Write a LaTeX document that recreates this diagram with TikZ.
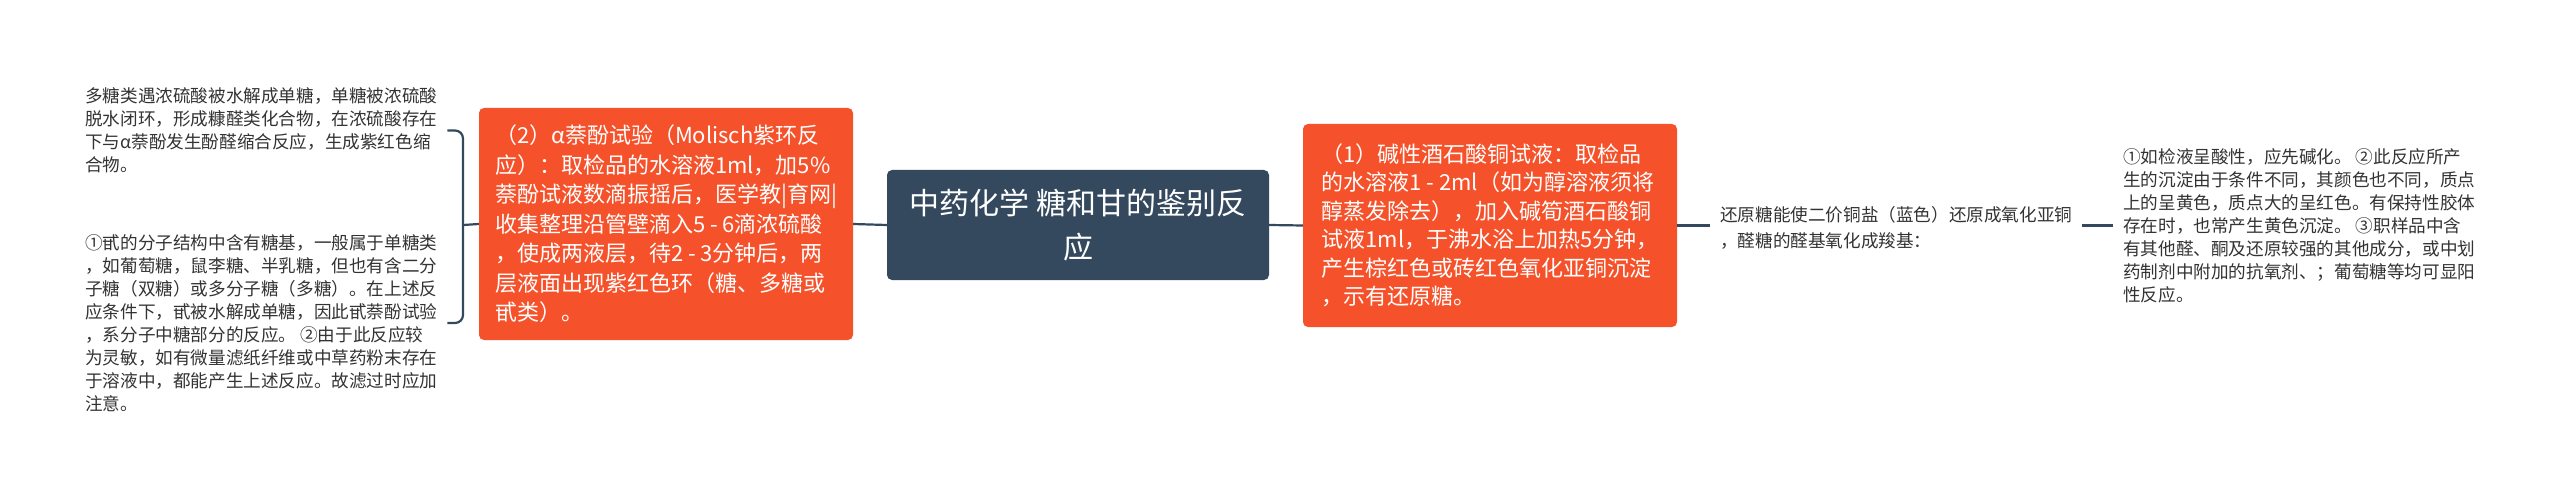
\documentclass[tikz,border=0pt]{standalone}
\usepackage{fontspec}
\setmainfont{Noto Sans CJK SC}
\usetikzlibrary{positioning,calc}

\definecolor{rootslate}{HTML}{34495E}
\definecolor{topicorange}{HTML}{F5522B}
\definecolor{notegray}{HTML}{333333}

\tikzset{
  root/.style={fill=rootslate,text=white,rounded corners=5pt,align=center,
    font=\fontsize{30}{44}\selectfont},
  topic/.style={fill=topicorange,text=white,rounded corners=5pt,align=left,
    inner xsep=11pt,font=\fontsize{22}{29.5}\selectfont},
  note/.style={text=notegray,align=left,inner xsep=10pt,inner ysep=0pt,
    font=\fontsize{17.6}{23}\selectfont},
  link/.style={draw=rootslate,line width=2.2pt}
}

\begin{document}
\begin{tikzpicture}[x=1pt,y=-1pt]
          \useasboundingbox[fill=white] (0,0) rectangle (2560,497);

          % Draw the boxes
          \node[root,minimum width=382pt,minimum height=110pt] (root) at (1078,225) {中药化学 糖和甘的鉴别反\\应};
          \node[topic,minimum width=374pt,minimum height=232pt] (molisch) at (666,224) {（2）α萘酚试验（Molisch紫环反\\应）：取检品的水溶液1ml，加5\%\\萘酚试液数滴振摇后，医学教|育网|\\收集整理沿管壁滴入5 - 6滴浓硫酸\\，使成两液层，待2 - 3分钟后，两\\层液面出现紫红色环（糖、多糖或\\甙类）。};
          \node[topic,minimum width=374pt,minimum height=203pt,font=\fontsize{22}{28.5}\selectfont] (fehling) at (1490,225.5) {（1）碱性酒石酸铜试液：取检品\\的水溶液1 - 2ml（如为醇溶液须将\\醇蒸发除去），加入碱筍酒石酸铜\\试液1ml，于沸水浴上加热5分钟，\\产生棕红色或砖红色氧化亚铜沉淀\\，示有还原糖。};

          % Draw the notes
          \node[note,anchor=west] (sugar) at (75,130.5) {多糖类遇浓硫酸被水解成单糖，单糖被浓硫酸\\脱水闭环，形成糠醛类化合物，在浓硫酸存在\\下与α萘酚发生酚醛缩合反应，生成紫红色缩\\合物。};
          \node[note,anchor=west] (glycoside) at (75,323) {①甙的分子结构中含有糖基，一般属于单糖类\\，如葡萄糖，鼠李糖、半乳糖，但也有含二分\\子糖（双糖）或多分子糖（多糖）。在上述反\\应条件下，甙被水解成单糖，因此甙萘酚试验\\，系分子中糖部分的反应。 ②由于此反应较\\为灵敏，如有微量滤纸纤维或中草药粉末存在\\于溶液中，都能产生上述反应。故滤过时应加\\注意。};
          \node[note,anchor=west,font=\fontsize{17.6}{26}\selectfont] (reduce) at (1710,228) {还原糖能使二价铜盐（蓝色）还原成氧化亚铜\\，醛糖的醛基氧化成羧基：};
          \node[note,anchor=west] (tips) at (2113,225.5) {①如检液呈酸性，应先碱化。 ②此反应所产\\生的沉淀由于条件不同，其颜色也不同，质点\\上的呈黄色，质点大的呈红色。有保持性胶体\\存在时，也常产生黄色沉淀。 ③职样品中含\\有其他醛、酮及还原较强的其他成分，或中划\\药制剂中附加的抗氧剂、；葡萄糖等均可显阳\\性反应。};

          % Draw the edges
          \coordinate (fork) at (463,225);
          \draw[link] (root.west) -- (molisch.east);
          \draw[link] (root.east) -- (fehling.west);
          \draw[link] (fehling.east) -- (fehling.east -| reduce.west);
          \draw[link] (tips.west -| reduce.east) -- (tips.west);
          \draw[link] (molisch.west) -- (fork);
          \draw[link,rounded corners=8pt] (sugar.east) -- (sugar.east -| fork) -- (glycoside.east -| fork) -- (glycoside.east);

\end{tikzpicture}
\end{document}
